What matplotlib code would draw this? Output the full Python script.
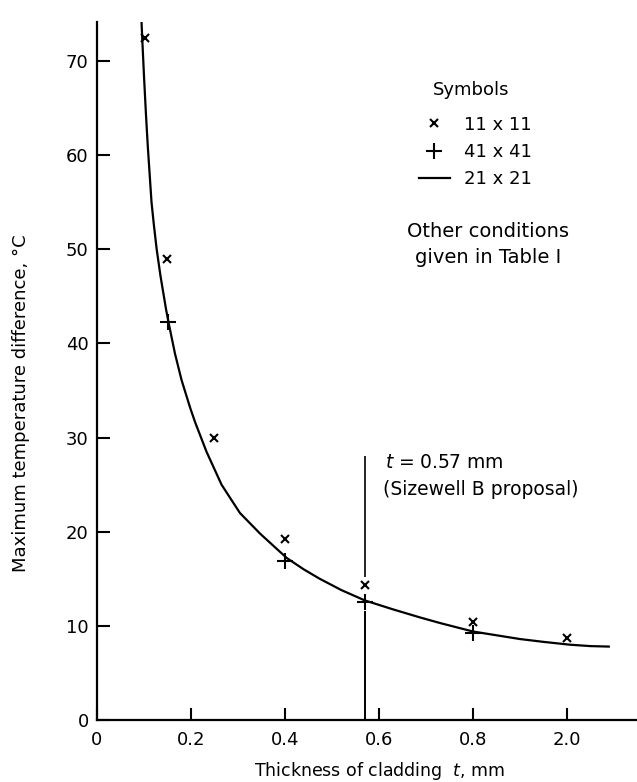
import numpy as np
import matplotlib
matplotlib.use('Agg')
import matplotlib.pyplot as plt

plt.rcParams['font.family'] = 'DejaVu Sans'

# 11 x 11 mesh (x symbols)
x_11 = [0.102, 0.15, 0.25, 0.40, 0.57, 0.80, 1.00]
y_11 = [72.5, 49.0, 30.0, 19.2, 14.3, 10.4, 8.7]

# 41 x 41 mesh (+ symbols)
x_41 = [0.152, 0.40, 0.57, 0.80]
y_41 = [42.3, 16.9, 12.5, 9.2]

# 21 x 21 mesh (solid curve)
x_21 = [0.094, 0.097, 0.100, 0.104, 0.108, 0.112, 0.116, 0.121, 0.127, 0.135,
        0.147, 0.154, 0.166, 0.180, 0.198, 0.209, 0.233, 0.265, 0.304, 0.347,
        0.382, 0.404, 0.440, 0.474, 0.520, 0.570, 0.630, 0.687, 0.730, 0.800,
        0.850, 0.900, 0.950, 1.006, 1.050, 1.089]
y_21 = [75.0, 71.6, 68.4, 64.5, 61.0, 58.0, 55.0, 52.6, 50.0, 47.2,
        43.6, 41.8, 38.9, 36.1, 33.2, 31.6, 28.5, 25.0, 22.0, 19.8,
        18.2, 17.2, 16.0, 15.0, 13.8, 12.7, 11.75, 10.9, 10.3, 9.4,
        9.0, 8.6, 8.3, 8.0, 7.85, 7.8]

x_ticks = [0, 0.2, 0.4, 0.6, 0.8, 1.0]
x_ticklabels = ['0', '0.2', '0.4', '0.6', '0.8', '2.0']
y_ticks = [0, 10, 20, 30, 40, 50, 60, 70]

t_prop = 0.57
prop_low = [0, 11.6]
prop_high = [15.2, 28.0]

fig = plt.figure(figsize=(6.37, 7.82), dpi=100)
ax = fig.add_axes([97 / 637, 62 / 782, 540 / 637, 698 / 782])

line, = ax.plot(x_21, y_21, color='black', lw=1.6)
xs, = ax.plot(x_11, y_11, ls='none', marker='x', ms=6, mew=1.5, color='black')
ps, = ax.plot(x_41, y_41, ls='none', marker='+', ms=11, mew=1.5, color='black')

ax.vlines(t_prop, prop_low[0], prop_low[1], color='black', lw=1.4)
ax.vlines(t_prop, prop_high[0], prop_high[1], color='black', lw=1.2)
ax.text(0.613, 27.4, r'$t$ = 0.57 mm', fontsize=13.5, va='center', ha='left')
ax.text(0.609, 24.5, '(Sizewell B proposal)', fontsize=13.5, va='center', ha='left')

# symbols key
ax.text(0.796, 66.9, 'Symbols', fontsize=13, ha='center', va='center')
ax.legend([xs, ps, line], ['11 x 11', '41 x 41', '21 x 21'],
          loc='upper left', bbox_to_anchor=(0.596, 0.866),
          frameon=False, fontsize=13, borderpad=0, borderaxespad=0,
          handlelength=1.72, handletextpad=0.78, labelspacing=0.52,
          numpoints=1)

ax.text(0.832, 51.9, 'Other conditions', fontsize=14, ha='center', va='center')
ax.text(0.832, 49.1, 'given in Table I', fontsize=14, ha='center', va='center')

ax.set_xlim(0, 1.149)
ax.set_ylim(0, 74.15)
ax.set_xticks(x_ticks)
ax.set_xticklabels(x_ticklabels)
ax.set_yticks(y_ticks)
ax.tick_params(direction='in', length=9, width=1.5, labelsize=13)
ax.tick_params(axis='x', pad=8)
ax.tick_params(axis='y', pad=6)

for s in ['top', 'right']:
    ax.spines[s].set_visible(False)
for s in ['left', 'bottom']:
    ax.spines[s].set_linewidth(1.6)

ax.set_ylabel('Maximum temperature difference, \u00b0C', fontsize=13)
ax.yaxis.set_label_coords(-0.124, 0.454)
ax.set_xlabel(r'Thickness of cladding  $t$, mm', fontsize=12.5)
ax.xaxis.set_label_coords(0.524, -0.057)

plt.savefig('out.png', dpi=100)
